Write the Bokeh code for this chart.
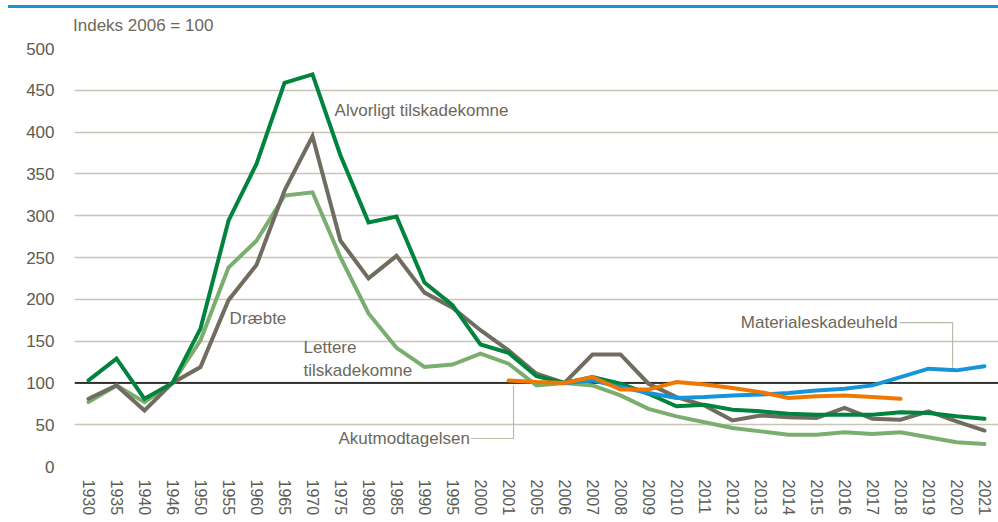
import numpy as np
from bokeh.plotting import figure
from bokeh.models import Range1d, FixedTicker, Span, Div
from bokeh.layouts import column
from bokeh.core.properties import value
from bokeh.embed import file_html
from bokeh.resources import INLINE

years = ["1930", "1935", "1940", "1946", "1950", "1955", "1960", "1965", "1970", "1975",
         "1980", "1985", "1990", "1995", "2000", "2001", "2005", "2006", "2007", "2008",
         "2009", "2010", "2011", "2012", "2013", "2014", "2015", "2016", "2017", "2018",
         "2019", "2020", "2021"]

alvorligt = [103, 129, 81, 100, 165, 294, 362, 459, 469, 372, 292, 299, 220, 193, 146, 136,
             108, 100, 107, 99, 87, 72, 74, 68, 66, 63, 62, 62, 62, 65, 64, 60, 57]
draebte = [81, 97, 67, 100, 119, 199, 241, 330, 395, 270, 225, 252, 208, 190, 163, 139,
           111, 100, 134, 134, 99, 83, 73, 55, 61, 59, 58, 70, 57, 56, 66, 54, 43]
lettere = [77, 97, 77, 100, 151, 238, 270, 324, 328, 250, 183, 142, 119, 122, 135, 123,
           97, 100, 97, 85, 69, 60, 53, 46, 42, 38, 38, 41, 39, 41, 35, 29, 27]
materiale_years = ["2006", "2007", "2008", "2009", "2010", "2011", "2012", "2013", "2014",
                   "2015", "2016", "2017", "2018", "2019", "2020", "2021"]
materiale = [100, 103, 95, 88, 82, 83, 85, 86, 88, 91, 93, 97, 107, 117, 115, 120]
akut_years = ["2001", "2005", "2006", "2007", "2008", "2009", "2010", "2011", "2012",
              "2013", "2014", "2015", "2016", "2017", "2018"]
akut = [103, 101, 100, 107, 92, 92, 101, 98, 94, 89, 82, 84, 85, 83, 81]

y_ticks = [0, 50, 100, 150, 200, 250, 300, 350, 400, 450, 500]

idx = {y: i for i, y in enumerate(years)}
x_all = list(range(len(years)))
x_mat = [idx[y] for y in materiale_years]
x_akut = [idx[y] for y in akut_years]

FONT = "Liberation Sans"
TXT = "#6C685B"
DGREEN = "#00843D"
GREY = "#706C5F"
LGREEN = "#7AAE6F"
BLUE = "#1595D8"
ORANGE = "#F07800"

header = Div(text="Indeks 2006 = 100", width=990, height=28,
             styles={"border-top": "3px solid " + BLUE, "font-family": FONT,
                     "font-size": "17px", "line-height": "17px", "color": TXT,
                     "padding-left": "65px", "padding-top": "9px", "margin-left": "8px",
                     "box-sizing": "border-box"})

p = figure(width=998, height=480, output_backend="svg", toolbar_location=None,
           x_range=Range1d(-0.5, len(years) - 0.5), y_range=Range1d(0, 500),
           min_border_left=74, min_border_right=0, min_border_top=10, min_border_bottom=50)
p.outline_line_color = None
p.background_fill_color = "white"
p.border_fill_color = "white"

p.xgrid.grid_line_color = None
p.ygrid.grid_line_color = "#C8C4B8"
p.ygrid.grid_line_width = 1.5
p.yaxis.ticker = FixedTicker(ticks=y_ticks)
p.xaxis.ticker = FixedTicker(ticks=x_all)
p.xaxis.major_label_overrides = {i: y for i, y in enumerate(years)}
p.xaxis.major_label_orientation = -np.pi / 2
for ax in (p.xaxis, p.yaxis):
    ax.axis_line_color = None
    ax.major_tick_line_color = None
    ax.minor_tick_line_color = None
    ax.major_tick_out = 0
    ax.major_tick_in = 0
    ax.minor_tick_out = 0
    ax.minor_tick_in = 0
    ax.major_label_text_font = FONT
    ax.major_label_text_color = "#5E5B50"
p.yaxis.major_label_text_font_size = "17px"
p.yaxis.major_label_standoff = 20
p.xaxis.major_label_text_font_size = "16px"
p.xaxis.major_label_standoff = 13

p.add_layout(Span(location=100, dimension="width", line_color="black", line_width=1.5,
                  level="underlay"))

lw = 4
style = dict(line_width=lw, line_join="miter", line_cap="round")
p.line(x_all, lettere, line_color=LGREEN, **style)
p.line(x_all, draebte, line_color=GREY, **style)
p.line(x_all, alvorligt, line_color=DGREEN, **style)
p.line(x_mat, materiale, line_color=BLUE, **style)
p.line(x_akut, akut, line_color=ORANGE, **style)

# leader lines
p.line([13.66, 15.18, 15.18], [33.5, 33.5, 97], line_color="#BDB9AD", line_width=1.2)
p.line([28.97, 30.86, 30.86], [172, 172, 118], line_color="#BDB9AD", line_width=1.2)

def txt(x, y, s, align="left"):
    p.text([x], [y], text=[s], text_font=value(FONT), text_font_size="17px",
           text_color=TXT, text_align=align, text_baseline="middle")

txt(8.79, 426, "Alvorligt tilskadekomne")
txt(5.04, 177, "Dræbte")
txt(7.68, 142, "Lettere")
txt(7.68, 115, "tilskadekomne")
txt(13.62, 33.5, "Akutmodtagelsen", "right")
txt(28.9, 172, "Materialeskadeuheld", "right")

layout = column(header, p, spacing=0)
open("out.html", "w").write(file_html(layout, INLINE))
